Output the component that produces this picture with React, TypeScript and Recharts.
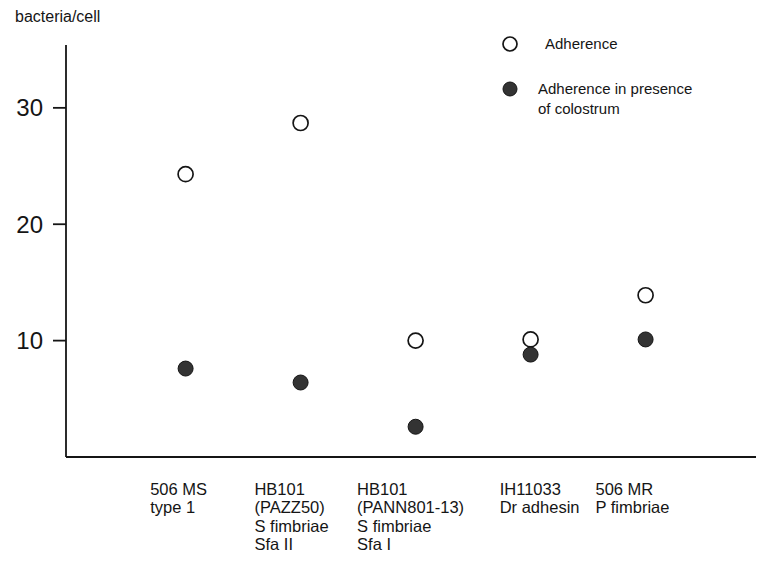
import { ScatterChart, Scatter, XAxis, YAxis, Legend } from "recharts";

const strainLabels = [
  ["506 MS", "type 1"],
  ["HB101", "(PAZZ50)", "S fimbriae", "Sfa II"],
  ["HB101", "(PANN801-13)", "S fimbriae", "Sfa I"],
  ["IH11033", "Dr adhesin"],
  ["506 MR", "P fimbriae"],
];
const adherence = [24.3, 28.7, 10.0, 10.1, 13.9];
const withColostrum = [7.6, 6.4, 2.6, 8.8, 10.1];
const yTicks = [10, 20, 30];

const adherenceData = adherence.map((v, i) => ({ x: i + 1, y: v }));
const colostrumData = withColostrum.map((v, i) => ({ x: i + 1, y: v }));

const INK = "#151515";
const FONT = "'Liberation Sans', Arial, sans-serif";
const LABEL_SIZE = 16.5;
const LABEL_FONT = `${LABEL_SIZE}px ${FONT}`;
// small horizontal nudges so the label blocks sit like the original typesetting
const labelNudge = [-7, -9, -5, 9, -13];

let canvas: HTMLCanvasElement | null = null;
function textWidth(s: string, font: string) {
  if (!canvas) canvas = document.createElement("canvas");
  const ctx = canvas.getContext("2d")!;
  ctx.font = font;
  return ctx.measureText(s).width;
}

const OpenDot = (props: any) => (
  <circle cx={props.cx} cy={props.cy} r={7.5} fill="#fff" stroke={INK} strokeWidth={1.7} />
);
const FilledDot = (props: any) => (
  <circle cx={props.cx} cy={props.cy} r={7.5} fill="#333" stroke={INK} strokeWidth={1} />
);

// multi-line strain label, left aligned, block centred under the point
const StrainTick = (props: any) => {
  const { x, y, payload, index } = props;
  const lines = strainLabels[payload.value - 1];
  if (!lines) return null;
  const w = Math.max(...lines.map((l) => textWidth(l, LABEL_FONT)));
  const left = x - w / 2 + (labelNudge[index] || 0);
  return (
    <text x={left} y={y + 38} fontFamily={FONT} fontSize={LABEL_SIZE} fill={INK}>
      {lines.map((l, i) => (
        <tspan key={i} x={left} dy={i === 0 ? 0 : 18.3}>
          {l}
        </tspan>
      ))}
    </text>
  );
};

const LegendBox = () => (
  <div style={{ position: "relative", width: 240, height: 100, fontFamily: FONT, color: INK }}>
    <svg width={20} height={100} style={{ position: "absolute", left: 0, top: 0 }}>
      <circle cx={10} cy={14} r={7} fill="#fff" stroke={INK} strokeWidth={1.7} />
      <circle cx={10} cy={59} r={7} fill="#333" stroke={INK} strokeWidth={1} />
    </svg>
    <div style={{ position: "absolute", left: 45, top: 5, fontSize: 15 }}>Adherence</div>
    <div style={{ position: "absolute", left: 38, top: 49, fontSize: 15, lineHeight: "20px" }}>
      Adherence in presence
      <br />
      of colostrum
    </div>
  </div>
);

export default function App() {
  return (
    <div style={{ position: "absolute", left: 0, top: 0, width: 765, height: 570, background: "#fff" }}>
      <div
        style={{
          position: "absolute",
          left: 15,
          top: 8,
          fontFamily: FONT,
          fontSize: 16,
          color: INK,
        }}
      >
        bacteria/cell
      </div>
      <ScatterChart width={765} height={570} margin={{ top: 45, right: 9, bottom: 0, left: 0 }}>
        <XAxis
          type="number"
          dataKey="x"
          domain={[-0.04, 5.96]}
          ticks={[1, 2, 3, 4, 5]}
          tick={<StrainTick />}
          tickLine={false}
          tickSize={0}
          tickMargin={0}
          height={113}
          stroke={INK}
          strokeWidth={1.8}
          interval={0}
        />
        <YAxis
          type="number"
          dataKey="y"
          domain={[0, 35.4]}
          ticks={yTicks}
          width={66}
          tickSize={13}
          tickMargin={10}
          stroke={INK}
          strokeWidth={1.8}
          tick={{ fill: INK, fontSize: 24, fontFamily: FONT }}
        />
        <Legend
          layout="vertical"
          align="center"
          verticalAlign="middle"
          wrapperStyle={{ top: 30, left: 500, width: 250 }}
          content={<LegendBox />}
        />
        <Scatter name="Adherence" data={adherenceData} shape={<OpenDot />} isAnimationActive={false} />
        <Scatter
          name="Adherence in presence of colostrum"
          data={colostrumData}
          shape={<FilledDot />}
          isAnimationActive={false}
        />
      </ScatterChart>
    </div>
  );
}
